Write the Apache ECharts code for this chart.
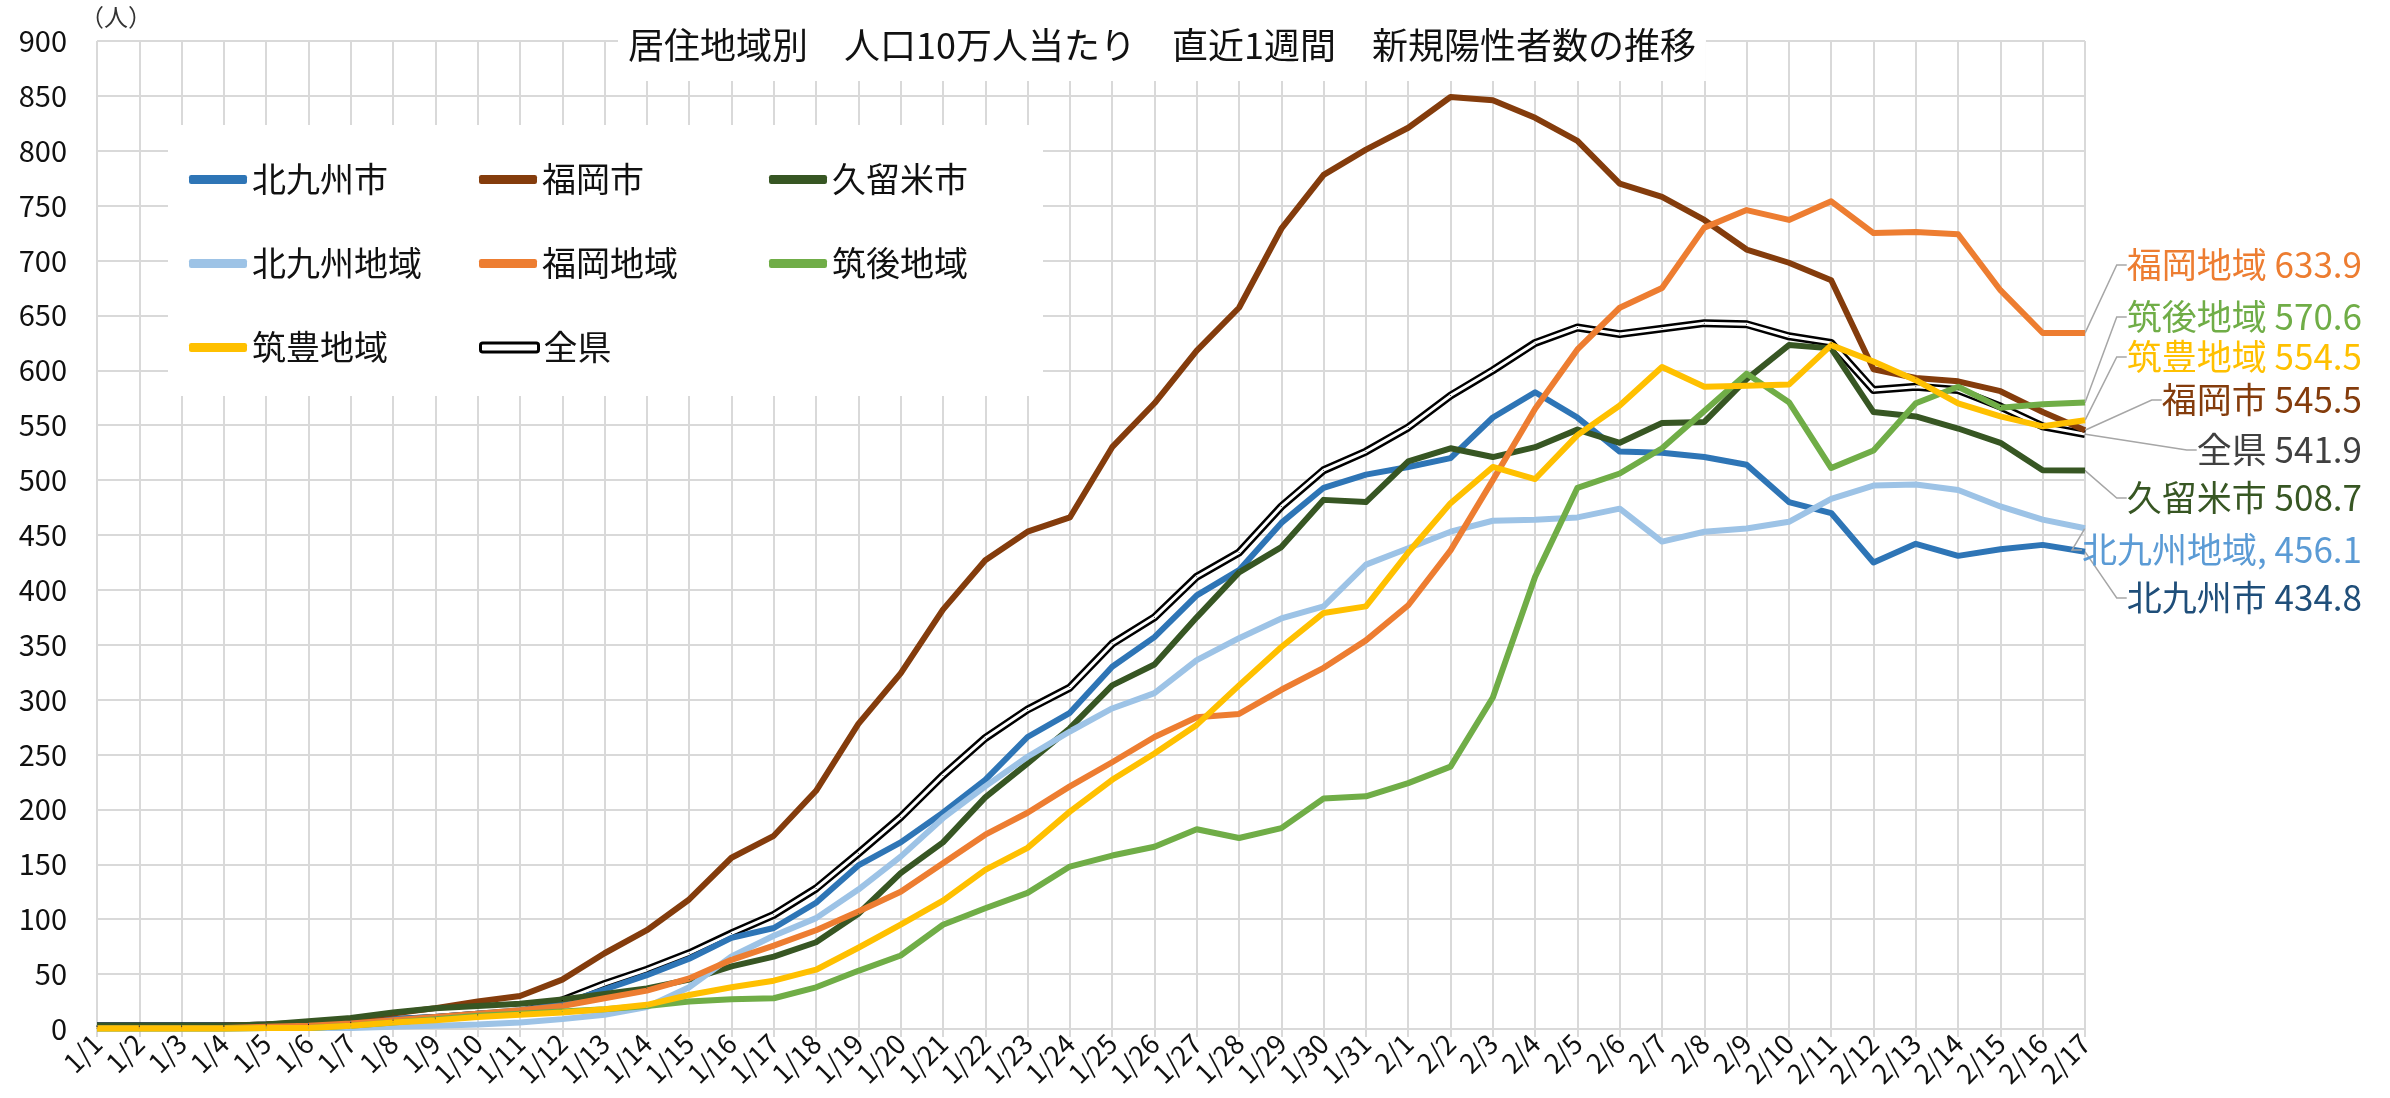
<!DOCTYPE html>
<html lang="ja">
<head>
<meta charset="UTF-8">
<title>居住地域別 人口10万人当たり 直近1週間 新規陽性者数の推移</title>
<script src="https://cdn.jsdelivr.net/npm/echarts/dist/echarts.min.js"></script>
<style>
  *{margin:0;padding:0;}
  body{background:#fff;}
  #chart{width:2390px;height:1098px;}
</style>
</head>
<body>
<div id="chart"></div>
<script>
// 日付（1/1〜2/17）
var dates = [];
for (var d = 1; d <= 31; d++) dates.push('1/' + d);
for (var d2 = 1; d2 <= 17; d2++) dates.push('2/' + d2);

// 人口10万人当たり 直近1週間 新規陽性者数
var kitakyushuCity = [3,3,3,3,4,5,7,9,11,14, 17,23,36,49,64,83,92,115,149,170, 197,227,266,288,330,357,395,418,461,493,505, 512,520,557,580,557,526,525,521,514,480, 470,425,442,431,437,441,434.8];
var fukuokaCity = [2,2,2,3,4,6,9,14,19,25, 30,45,69,90,118,156,176,217,278,324, 382,427,453,466,530,570,618,657,729,778,801, 821,849,846,830,809,770,758,737,710,698, 682,601,593,590,581,562,545.5];
var kurumeCity = [3,3,3,3,4,7,10,15,19,21, 23,27,32,37,45,57,66,79,105,142, 170,211,242,274,313,332,375,416,439,482,480, 517,529,521,530,546,534,552,553,592,623, 620,562,558,547,534,509,508.7];
var kitakyushuArea = [0.5,0.5,0.5,0.5,1,1,1,2,3,4, 6,9,13,20,38,66,85,101,127,157, 192,221,248,271,292,306,336,356,374,385,423, 438,453,463,464,466,474,444,453,456,462, 483,495,496,491,476,464,456.1];
var fukuokaArea = [1,1,1,1,2,3,5,8,11,14, 17,21,28,35,46,63,76,90,107,125, 151,177,197,221,243,266,284,287,309,329,354, 386,436,500,565,619,657,675,730,746,737, 754,725,726,724,673,634,633.9];
var chikugoArea = [0.5,0.5,0.5,0.5,1,1,3,6,9,12, 14,16,18,21,25,27,28,38,53,67, 95,110,124,148,158,166,182,174,183,210,212, 224,239,302,412,493,506,529,563,597,571, 511,527,570,585,566,569,570.6];
var chikuhoArea = [0.5,0.5,0.5,0.5,1,1,3,6,8,11, 13,15,18,22,31,38,44,54,74,95, 117,145,165,198,227,251,277,313,348,379,385, 434,479,512,501,541,568,603,585,586,587, 623,608,591,570,558,549,554.5];
var prefecture = [2.5,2.5,2.5,2.5,3,4,6,8,10,13, 15,26,41,54,69,87,104,128,160,193, 231,265,291,311,351,375,412,434,476,509,526, 548,577,600,625,639,633,638,643,642,631, 625,582,585,582,567,549,541.9];

var legendNames = ['北九州市','福岡市','久留米市','北九州地域','福岡地域','筑後地域','筑豊地域','全県'];

var FONT = '"Noto Sans CJK JP", "Noto Sans", sans-serif';
var GRID_COLOR = '#d9d9d9';
var LABEL_RIGHT = 2362;

function buildSeries(name, values, color, labelColor, labelY, sep, width) {
  var last = values.length - 1;
  return {
    name: name,
    type: 'line',
    color: color,
    clip: false,
    showSymbol: true,
    showAllSymbol: true,
    symbol: 'circle',
    symbolSize: 1,
    lineStyle: {color: color, width: width || 6, join: 'round'},
    emphasis: {disabled: true},
    labelLine: {show: true, length2: 10, smooth: false, lineStyle: {color: '#a6a6a6', width: 1.5}},
    labelLayout: {x: LABEL_RIGHT, y: labelY, align: 'right', verticalAlign: 'middle'},
    data: values.map(function (v, i) {
      if (i !== last) return v;
      return {
        value: v,
        label: {
          show: true,
          color: labelColor,
          fontFamily: FONT,
          fontSize: 35,
          padding: [0, 0, 0, 10],
          formatter: function (p) { return name + sep + p.value.toFixed(1); }
        }
      };
    })
  };
}

var series = [
  buildSeries('全県', prefecture, '#000000', '#404040', 450, ' ', 8),
  {
    name: '全県_inner', type: 'line', data: prefecture, clip: false, silent: true,
    showSymbol: false, color: '#ffffff',
    lineStyle: {color: '#ffffff', width: 3}, emphasis: {disabled: true}
  },
  buildSeries('北九州市', kitakyushuCity, '#2E75B6', '#1F4E79', 598, ' '),
  buildSeries('福岡市', fukuokaCity, '#843C0C', '#843C0C', 400, ' '),
  buildSeries('久留米市', kurumeCity, '#375623', '#375623', 498, ' '),
  buildSeries('北九州地域', kitakyushuArea, '#9DC3E6', '#5B9BD5', 550, ', '),
  buildSeries('福岡地域', fukuokaArea, '#ED7D31', '#ED7D31', 265, ' '),
  buildSeries('筑後地域', chikugoArea, '#70AD47', '#70AD47', 317, ' '),
  buildSeries('筑豊地域', chikuhoArea, '#FFC000', '#FFC000', 357, ' ')
];

var chart = echarts.init(document.getElementById('chart'));
chart.setOption({
  animation: false,
  backgroundColor: '#fff',
  textStyle: {fontFamily: FONT},
  title: {
    text: '居住地域別　人口10万人当たり　直近1週間　新規陽性者数の推移',
    left: 618,
    top: 9,
    padding: [18, 10, 18, 10],
    backgroundColor: '#fff',
    textStyle: {fontFamily: FONT, fontSize: 36, fontWeight: 'normal', color: '#111', lineHeight: 36}
  },
  legend: {
    data: legendNames.map(function (n) {
      if (n === '全県') return {name: n, itemStyle: {color: '#fff', borderColor: '#000', borderWidth: 3}};
      return {name: n};
    }),
    left: 168,
    top: 125,
    width: 860,
    padding: [26, 11, 20, 21],
    backgroundColor: '#fff',
    icon: 'roundRect',
    itemWidth: 58,
    itemHeight: 9,
    itemGap: 27,
    itemStyle: {borderWidth: 0},
    textStyle: {fontFamily: FONT, fontSize: 34, color: '#111', width: 200, lineHeight: 57}
  },
  grid: {left: 97, right: 305, top: 41, bottom: 69, containLabel: false, outerBoundsMode: 'none'},
  xAxis: {
    type: 'category',
    data: dates,
    boundaryGap: false,
    axisLine: {lineStyle: {color: GRID_COLOR, width: 2}},
    axisTick: {show: true, interval: 0, length: 8, lineStyle: {color: GRID_COLOR, width: 2}},
    splitLine: {show: true, interval: 0, lineStyle: {color: GRID_COLOR, width: 2}},
    axisLabel: {interval: 0, rotate: 45, fontFamily: FONT, fontSize: 27, color: '#111', margin: 10}
  },
  yAxis: {
    type: 'value',
    min: 0,
    max: 900,
    interval: 50,
    name: '（人）',
    nameLocation: 'end',
    nameGap: 12,
    nameTextStyle: {fontFamily: FONT, fontSize: 24, color: '#333', align: 'left', padding: [0, 0, 0, -17]},
    axisLine: {show: false},
    axisTick: {show: false},
    splitLine: {lineStyle: {color: GRID_COLOR, width: 2}},
    axisLabel: {fontFamily: FONT, fontSize: 29, color: '#111', margin: 30}
  },
  series: series
});
</script>
</body>
</html>
